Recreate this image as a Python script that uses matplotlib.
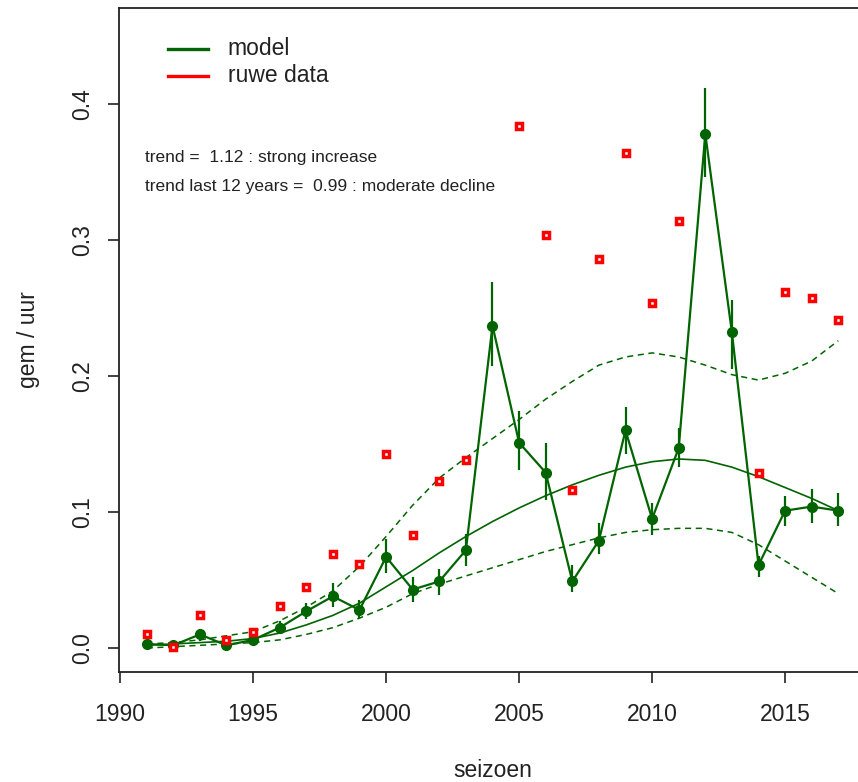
import numpy as np
import matplotlib
matplotlib.use("Agg")
import matplotlib.pyplot as plt

plt.rcParams['font.family'] = ['Liberation Sans', 'DejaVu Sans']

years = np.arange(1991, 2018)

# model index with error bars (lower / upper)
model = [0.003, 0.002, 0.010, 0.002, 0.006, 0.015, 0.027, 0.038, 0.028, 0.067,
         0.043, 0.049, 0.072, 0.237, 0.151, 0.129, 0.049, 0.079, 0.160, 0.095,
         0.147, 0.378, 0.232, 0.061, 0.101, 0.104, 0.101]
model_lo = [0.001, 0.001, 0.005, 0.000, 0.003, 0.011, 0.021, 0.030, 0.021, 0.055,
            0.034, 0.039, 0.060, 0.207, 0.131, 0.109, 0.041, 0.069, 0.143, 0.083,
            0.133, 0.346, 0.205, 0.052, 0.090, 0.092, 0.090]
model_hi = [0.005, 0.003, 0.014, 0.004, 0.009, 0.020, 0.033, 0.048, 0.035, 0.080,
            0.052, 0.058, 0.084, 0.269, 0.174, 0.151, 0.061, 0.092, 0.177, 0.107,
            0.162, 0.412, 0.256, 0.068, 0.112, 0.117, 0.114]

# raw data (missing years as nan)
ruwe = [0.010, 0.001, 0.024, 0.006, 0.012, 0.031, 0.045, 0.069, 0.062, 0.143,
        0.083, 0.123, 0.138, np.nan, 0.384, 0.304, 0.116, 0.286, 0.364, 0.254,
        0.314, np.nan, np.nan, 0.129, 0.262, 0.257, 0.241]

# smoothed trend with band
trend = [0.002, 0.003, 0.004, 0.005, 0.007, 0.011, 0.017, 0.024, 0.033, 0.045,
         0.057, 0.070, 0.082, 0.093, 0.103, 0.112, 0.120, 0.127, 0.133, 0.137,
         0.139, 0.138, 0.133, 0.126, 0.118, 0.110, 0.101]
trend_lo = [0.000, 0.001, 0.002, 0.003, 0.004, 0.006, 0.010, 0.015, 0.022, 0.030,
            0.040, 0.047, 0.053, 0.059, 0.065, 0.071, 0.076, 0.081, 0.085, 0.087,
            0.088, 0.088, 0.085, 0.076, 0.064, 0.052, 0.040]
trend_hi = [0.003, 0.004, 0.006, 0.009, 0.012, 0.020, 0.030, 0.042, 0.060, 0.082,
            0.105, 0.125, 0.140, 0.154, 0.168, 0.183, 0.196, 0.208, 0.214, 0.217,
            0.214, 0.208, 0.201, 0.197, 0.202, 0.211, 0.226]

green = '#006400'

fig = plt.figure(figsize=(8.58, 7.82), dpi=100)
ax = fig.add_axes([0.1387, 0.1407, 0.8706, 0.8491])

ax.plot(years, trend, '-', color=green, lw=1.2)
ax.plot(years, trend_lo, '--', color=green, lw=1.1, dashes=(4, 3))
ax.plot(years, trend_hi, '--', color=green, lw=1.1, dashes=(4, 3))

ax.vlines(years, model_lo, model_hi, color=green, lw=1.6)
ax.plot(years, model, '-', color=green, lw=1.6)
ax.plot(years, model, 'o', color=green, ms=7)

ax.plot(years, ruwe, 's', ls='none', mfc='white', mec='red', mew=2.5, ms=5)

ax.set_xlim(1989.96, 2018.04)
ax.set_ylim(-0.0176, 0.4706)
ax.set_xticks([1990, 1995, 2000, 2005, 2010, 2015])
ax.set_yticks([0.0, 0.1, 0.2, 0.3, 0.4])
ax.set_yticklabels(['0.0', '0.1', '0.2', '0.3', '0.4'], rotation=90, va='center')
ax.tick_params(direction='out', length=8, width=1.2, labelsize=16.5, colors='#222222')
ax.tick_params(axis='x', pad=14)
ax.tick_params(axis='y', pad=10)
for s in ax.spines.values():
    s.set_linewidth(1.3)
    s.set_color('#222222')

ax.set_xlabel('seizoen', fontsize=16.5, labelpad=24, color='#222222')
ax.set_ylabel('gem / uur', fontsize=16.5, labelpad=22, color='#222222')

# legend drawn as in R
ax.plot([1991.8, 1993.3], [0.4408, 0.4408], color=green, lw=2.4)
ax.plot([1991.8, 1993.3], [0.4209, 0.4209], color='red', lw=2.4)
ax.text(1994.05, 0.4408, 'model', fontsize=16.5, va='center', color='#222222')
ax.text(1994.05, 0.4209, 'ruwe data', fontsize=16.5, va='center', color='#222222')

ax.text(1990.95, 0.3610, 'trend =  1.12 : strong increase', fontsize=12.5, va='center', color='#222222')
ax.text(1990.95, 0.3390, 'trend last 12 years =  0.99 : moderate decline', fontsize=12.5, va='center', color='#222222')

fig.savefig('out.png', dpi=100)
